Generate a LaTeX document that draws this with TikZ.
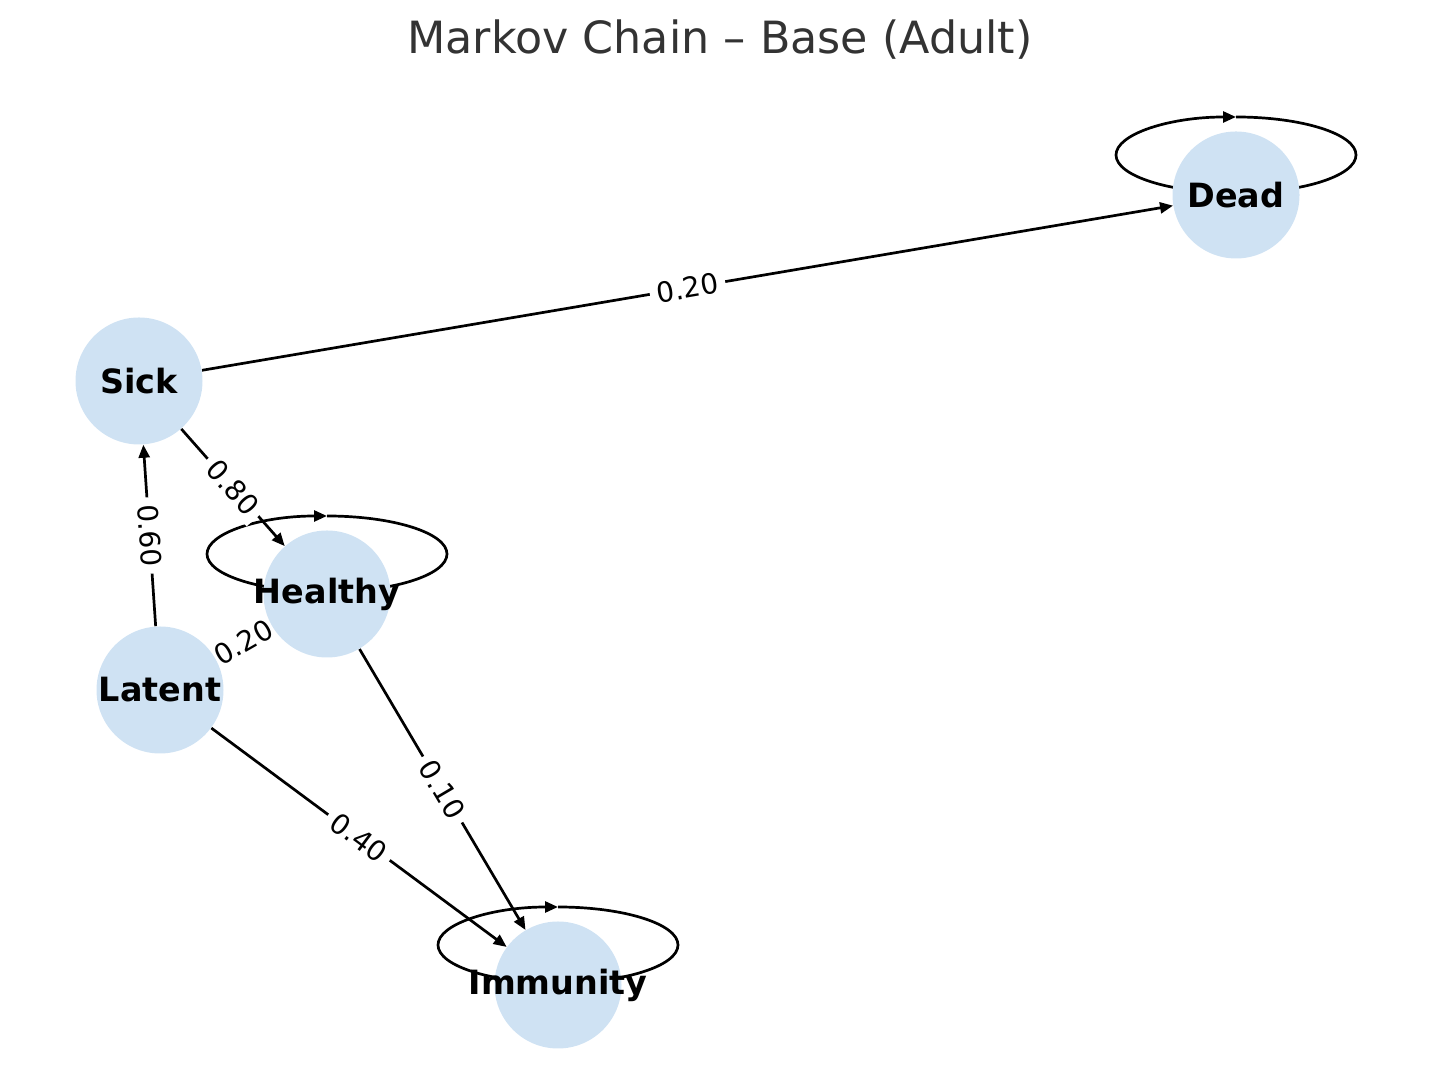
\documentclass[tikz,border=0pt]{standalone}
\usepackage{fontspec}
\setmainfont{DejaVu Sans}
\usetikzlibrary{arrows.meta}
\definecolor{statefill}{HTML}{CFE2F3}
\definecolor{titlegray}{HTML}{333333}
\pgfdeclarelayer{background}
\pgfsetlayers{background,main}
\begin{document}
\begin{tikzpicture}[x=0.5pt,y=0.5pt,
  state/.style={circle,fill=statefill,minimum size=63.5pt,inner sep=0pt},
  statename/.style={font=\fontsize{16.7}{18}\selectfont\bfseries},
  trans/.style={line width=1.35pt,-{Triangle[length=6.5pt,width=5.5pt]}},
  prob/.style={fill=white,inner xsep=3.5pt,inner ysep=2.5pt,sloped,font=\fontsize{14}{16}\selectfont}]
\useasboundingbox (0,0) rectangle (1439,1090);
\node[text=titlegray,font=\fontsize{22.2}{26}\selectfont] (title) at (720,1050) {Markov Chain – Base (Adult)};
\node[state] (dead) at (1236,895) {};
\node[state] (sick) at (139,709) {};
\node[state] (healthy) at (327,496) {};
\node[state] (latent) at (160,400) {};
\node[state] (immunity) at (558,105) {};
\foreach \n/\t in {dead/Dead,sick/Sick,healthy/Healthy,latent/Latent,immunity/Immunity} {\node[statename] (\n-t) at (\n) {\t};}
\begin{pgfonlayer}{background}
\foreach \n in {dead,healthy,immunity} {\draw[trans] (\n.center) ++(0,78) arc[start angle=90,end angle=-270,x radius=60pt,y radius=19pt];}
\draw[trans] (sick) -- node[prob] {0.20} (dead);
\draw[trans] (sick) -- node[prob] {0.80} (healthy);
\draw[trans] (latent) -- node[prob] {0.60} (sick);
\draw[trans] (latent) -- node[prob] {0.20} (healthy);
\draw[trans] (healthy) -- node[prob] {0.10} (immunity);
\draw[trans] (latent) -- node[prob] {0.40} (immunity);
\end{pgfonlayer}
\end{tikzpicture}
\end{document}
